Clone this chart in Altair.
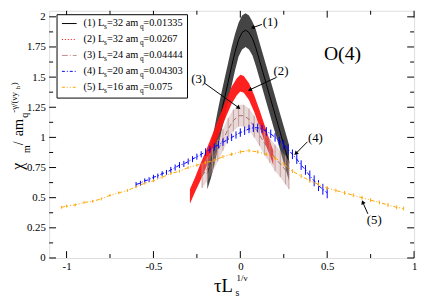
import math
import altair as alt
import numpy as np
import pandas as pd

# ---------------- data ----------------
# (1) Ls=32 amq=0.01335  (black band)
b_x = [-0.19, -0.17, -0.15, -0.13, -0.11, -0.09, -0.07, -0.05, -0.03, -0.01, 0.01, 0.03, 0.05,
       0.07, 0.09, 0.11, 0.13, 0.15, 0.17, 0.19, 0.21, 0.23, 0.25, 0.27, 0.28]
b_c = [0.70, 0.80, 0.92, 1.06, 1.20, 1.33, 1.46, 1.59, 1.71, 1.81, 1.87, 1.89, 1.87,
       1.82, 1.74, 1.64, 1.54, 1.44, 1.34, 1.24, 1.14, 1.04, 0.94, 0.84, 0.79]
b_e = [0.13, 0.14, 0.15, 0.16, 0.16, 0.16, 0.16, 0.16, 0.15, 0.14, 0.14, 0.14, 0.14,
       0.14, 0.15, 0.15, 0.15, 0.15, 0.15, 0.15, 0.15, 0.15, 0.15, 0.15, 0.15]

# (2) Ls=32 amq=0.0267  (red band)
r_x = [-0.29, -0.26, -0.23, -0.20, -0.17, -0.14, -0.11, -0.08, -0.05, -0.02, 0.00, 0.02,
       0.05, 0.08, 0.11, 0.14, 0.17, 0.19]
r_c = [0.51, 0.61, 0.71, 0.81, 0.92, 1.03, 1.14, 1.25, 1.35, 1.42, 1.45, 1.44,
       1.38, 1.28, 1.16, 1.03, 0.91, 0.83]
r_e = [0.06, 0.06, 0.07, 0.07, 0.07, 0.07, 0.07, 0.07, 0.07, 0.07, 0.07, 0.07,
       0.07, 0.07, 0.07, 0.07, 0.06, 0.06]

# (3) Ls=24 amq=0.04444  (rosy-brown band)
br_x = [-0.22, -0.19, -0.16, -0.13, -0.10, -0.07, -0.04, -0.01, 0.02, 0.05, 0.08, 0.11,
        0.14, 0.17, 0.20, 0.23, 0.26, 0.28]
br_c = [0.68, 0.74, 0.81, 0.89, 0.98, 1.07, 1.14, 1.18, 1.18, 1.15, 1.09, 1.02,
        0.95, 0.89, 0.83, 0.78, 0.73, 0.69]
br_e = [0.10, 0.10, 0.10, 0.09, 0.09, 0.09, 0.09, 0.09, 0.09, 0.09, 0.09, 0.09,
        0.10, 0.10, 0.11, 0.11, 0.12, 0.12]

# (4) Ls=20 amq=0.04303  (blue)
bl_x = [-0.600, -0.575, -0.550, -0.525, -0.500, -0.475, -0.450, -0.425, -0.400, -0.375,
        -0.350, -0.325, -0.300, -0.275, -0.250, -0.225, -0.200, -0.175, -0.150, -0.125,
        -0.100, -0.075, -0.050, -0.025, 0.000, 0.025, 0.050, 0.075, 0.100, 0.125,
        0.150, 0.175, 0.200, 0.225, 0.250, 0.275, 0.300, 0.325, 0.350, 0.375,
        0.400, 0.425, 0.450, 0.475, 0.500]
bl_c = [0.61, 0.62, 0.64, 0.65, 0.67, 0.68, 0.70, 0.71, 0.73, 0.75,
        0.77, 0.78, 0.80, 0.82, 0.84, 0.86, 0.88, 0.90, 0.92, 0.94,
        0.96, 0.98, 1.00, 1.02, 1.04, 1.055, 1.07, 1.08, 1.08, 1.07,
        1.05, 1.03, 1.00, 0.97, 0.94, 0.90, 0.86, 0.82, 0.77, 0.73,
        0.68, 0.64, 0.60, 0.57, 0.54]
bl_e = [0.020, 0.020, 0.020, 0.020, 0.020, 0.020, 0.020, 0.020, 0.025, 0.025,
        0.025, 0.025, 0.025, 0.025, 0.025, 0.025, 0.030, 0.030, 0.030, 0.030,
        0.030, 0.030, 0.030, 0.030, 0.035, 0.035, 0.035, 0.035, 0.035, 0.035,
        0.035, 0.035, 0.035, 0.035, 0.040, 0.040, 0.040, 0.040, 0.040, 0.040,
        0.045, 0.045, 0.045, 0.045, 0.045]

# (5) Ls=16 amq=0.075  (orange)
o_x = [-1.03, -1.00, -0.95, -0.90, -0.85, -0.80, -0.75, -0.70, -0.65, -0.60, -0.55,
       -0.50, -0.45, -0.40, -0.35, -0.30, -0.25, -0.20, -0.15, -0.10, -0.05, 0.00,
       0.05, 0.10, 0.15, 0.20, 0.25, 0.30, 0.35, 0.40, 0.45, 0.50, 0.55, 0.60,
       0.65, 0.70, 0.75, 0.80, 0.85, 0.90, 0.94]
o_c = [0.42, 0.43, 0.44, 0.46, 0.47, 0.49, 0.52, 0.54, 0.56, 0.59, 0.62,
       0.64, 0.67, 0.70, 0.72, 0.75, 0.77, 0.79, 0.81, 0.84, 0.86, 0.88,
       0.89, 0.88, 0.86, 0.83, 0.78, 0.72, 0.68, 0.64, 0.61, 0.58, 0.56, 0.54,
       0.52, 0.50, 0.48, 0.46, 0.44, 0.42, 0.41]
o_e = [0.012, 0.012, 0.012, 0.012, 0.012, 0.012, 0.012, 0.012, 0.012, 0.012, 0.012,
       0.012, 0.012, 0.012, 0.012, 0.012, 0.012, 0.012, 0.014, 0.014, 0.014, 0.014,
       0.014, 0.014, 0.014, 0.015, 0.015, 0.015, 0.016, 0.016, 0.016, 0.016, 0.016, 0.016,
       0.016, 0.016, 0.016, 0.016, 0.016, 0.016, 0.016]

x_major = [-1, -0.5, 0, 0.5, 1]
x_minor = [-0.75, -0.25, 0.25, 0.75]
y_major = [0, 0.25, 0.5, 0.75, 1, 1.25, 1.5, 1.75, 2]
y_minor = [0.125, 0.375, 0.625, 0.875, 1.125, 1.375, 1.625, 1.875]

leg_num = ["(1)", "(2)", "(3)", "(4)", "(5)"]
leg_L = ["32", "32", "24", "20", "16"]
leg_am = ["0.01335", "0.0267", "0.04444", "0.04303", "0.075"]

ann_text = ["(1)", "(2)", "(3)", "(4)", "(5)"]
ann_tx = [0.172, 0.234, -0.240, 0.432, 0.771]
ann_ty = [1.960, 1.554, 1.485, 0.997, 0.317]
arr_x0 = [0.124, 0.207, -0.207, 0.386, 0.734]
arr_y0 = [1.937, 1.497, 1.451, 0.963, 0.366]
arr_x1 = [0.075, 0.058, -0.012, 0.322, 0.706]
arr_y1 = [1.912, 1.397, 1.249, 0.870, 0.458]

# ---------------- layout ----------------
W, H = 372, 252
XD = [-1.1, 1.0]
YD = [0, 2.05]
SERIF = "Liberation Serif, Times New Roman, Times, serif"
xs = alt.Scale(domain=XD, nice=False, zero=False)
ys = alt.Scale(domain=YD, nice=False, zero=False)
AX = alt.Axis(values=x_major, labelExpr="'' + datum.value", title=None, ticks=False, tickSize=0,
              domain=False, grid=False, labelPadding=3, labelFont=SERIF, labelFontSize=11,
              labelColor="black", labelFlush=False, labelOverlap=False)
AY = alt.Axis(values=y_major, labelExpr="'' + datum.value", title=None, ticks=False, tickSize=0,
              domain=False, grid=False, labelPadding=4, labelFont=SERIF, labelFontSize=11,
              labelColor="black", labelFlush=False, labelOverlap=False)


def X(f):
    return alt.X(f, type="quantitative", scale=xs, axis=AX)


def Y(f):
    return alt.Y(f, type="quantitative", scale=ys, axis=AY)


def band(x, c, e):
    c = np.array(c, dtype=float)
    e = np.array(e, dtype=float)
    return pd.DataFrame({"x": x, "c": c, "lo": c - e, "hi": c + e})


ONE = pd.DataFrame({"a": [0]})


def txt(s, x, y, size, angle=0, align="left", baseline="alphabetic"):
    return alt.Chart(ONE).mark_text(text=s, font=SERIF, fontSize=size, align=align,
                                    baseline=baseline, angle=angle, color="black").encode(
        x=alt.value(x), y=alt.value(y))


layers = []

# (1) black
d1 = band(b_x, b_c, b_e)
layers.append(alt.Chart(d1).mark_area(color="#3a3a3a", opacity=0.95).encode(
    x=X("x"), y=Y("lo"), y2="hi"))
layers.append(alt.Chart(d1).mark_line(color="#000000", strokeWidth=1).encode(x=X("x"), y=Y("c")))

# (2) red
d2 = band(r_x, r_c, r_e)
layers.append(alt.Chart(d2).mark_area(color="#ff1414", opacity=0.95).encode(
    x=X("x"), y=Y("lo"), y2="hi"))

# (3) rosy brown
d3 = band(br_x, br_c, br_e)
layers.append(alt.Chart(d3).mark_area(color="#bc8f8f", opacity=0.35).encode(
    x=X("x"), y=Y("lo"), y2="hi"))
layers.append(alt.Chart(d3).mark_rule(color="#bc8f8f", strokeWidth=1, opacity=0.8).encode(
    x=X("x"), y=Y("lo"), y2="hi"))
layers.append(alt.Chart(d3).mark_line(color="#a07070", strokeWidth=1, strokeDash=[5, 3]).encode(
    x=X("x"), y=Y("c")))

# (4) blue
d4 = band(bl_x, bl_c, bl_e)
layers.append(alt.Chart(d4).mark_rule(color="#0000ff", strokeWidth=1).encode(
    x=X("x"), y=Y("lo"), y2="hi"))
layers.append(alt.Chart(d4).mark_line(color="#0000ff", strokeWidth=1, strokeDash=[4, 2, 1, 2]).encode(
    x=X("x"), y=Y("c")))

# (5) orange
d5 = band(o_x, o_c, o_e)
layers.append(alt.Chart(d5).mark_rule(color="#ffa500", strokeWidth=1).encode(
    x=X("x"), y=Y("lo"), y2="hi"))
layers.append(alt.Chart(d5).mark_line(color="#ffa500", strokeWidth=1, strokeDash=[4, 2, 1, 2, 1, 2]).encode(
    x=X("x"), y=Y("c")))

# ticks (inside, on all four sides)
dxM = pd.DataFrame({"v": x_major})
dxm = pd.DataFrame({"v": x_minor})
dyM = pd.DataFrame({"v": y_major})
dym = pd.DataFrame({"v": y_minor})
for df, ln in ((dxM, 7), (dxm, 4)):
    layers.append(alt.Chart(df).mark_rule(color="black", strokeWidth=1).encode(
        x=X("v"), y=alt.value(H), y2=alt.value(H - ln)))
    layers.append(alt.Chart(df).mark_rule(color="black", strokeWidth=1).encode(
        x=X("v"), y=alt.value(0), y2=alt.value(ln)))
for df, ln in ((dyM, 7), (dym, 4)):
    layers.append(alt.Chart(df).mark_rule(color="black", strokeWidth=1).encode(
        y=Y("v"), x=alt.value(0), x2=alt.value(ln)))
    layers.append(alt.Chart(df).mark_rule(color="black", strokeWidth=1).encode(
        y=Y("v"), x=alt.value(W), x2=alt.value(W - ln)))

# annotations
dann = pd.DataFrame({"t": ann_text, "x": ann_tx, "y": ann_ty})
layers.append(alt.Chart(dann).mark_text(font=SERIF, fontSize=13, color="black",
                                        align="center", baseline="middle").encode(
    x=X("x"), y=Y("y"), text="t"))
kx = W / (XD[1] - XD[0])
ky = H / (YD[1] - YD[0])
angles = []
for x0, y0, x1, y1 in zip(arr_x0, arr_y0, arr_x1, arr_y1):
    ddx = (x1 - x0) * kx
    ddy = -(y1 - y0) * ky
    angles.append(math.degrees(math.atan2(ddx, -ddy)) % 360)
darr = pd.DataFrame({"x0": arr_x0, "y0": arr_y0, "x1": arr_x1, "y1": arr_y1, "ang": angles})
layers.append(alt.Chart(darr).mark_rule(color="black", strokeWidth=1).encode(
    x=X("x0"), y=Y("y0"), x2="x1", y2="y1"))
layers.append(alt.Chart(darr).mark_point(shape="triangle", filled=True, color="black",
                                         size=22, opacity=1).encode(
    x=X("x1"), y=Y("y1"), angle=alt.Angle("ang:Q", scale=None)))

layers.append(txt("O(4)", 299, 50, 20, align="center"))

# legend
layers.append(alt.Chart(ONE).mark_rect(fill="white", stroke="black", strokeWidth=1).encode(
    x=alt.value(8), x2=alt.value(141), y=alt.value(4), y2=alt.value(89)))
leg_styles = [("#000000", []), ("#ff0000", [1, 2]), ("#bc8f8f", [6, 2, 1, 2]),
              ("#0000ff", [3, 2, 1, 2]), ("#ffa500", [3, 2, 1, 2, 1, 2])]
base_y = [16, 32.25, 48.5, 64.75, 81]
for i in range(5):
    col, dash = leg_styles[i]
    by = base_y[i]
    mk = dict(color=col, strokeWidth=1)
    if dash:
        mk["strokeDash"] = dash
    layers.append(alt.Chart(ONE).mark_rule(**mk).encode(
        x=alt.value(13), x2=alt.value(28), y=alt.value(by - 3)))
    layers.append(txt(leg_num[i] + " L", 35, by, 10.5))
    layers.append(txt("s", 56, by + 3, 7.5))
    layers.append(txt("=" + leg_L[i] + "  am", 59, by, 10.5))
    layers.append(txt("q", 92.5, by + 3, 7.5))
    layers.append(txt("=" + leg_am[i], 96, by, 10.5))

# axis titles
layers.append(txt("τL", 168, 287, 19))
layers.append(txt("s", 190, 291, 10))
layers.append(txt("1/ν", 191, 275, 9))

layers.append(txt("χ", -27, 162, 16, angle=270))
layers.append(txt("m", -20, 145, 10, angle=270))
layers.append(txt("/", -27, 137, 14, angle=270))
layers.append(txt("am", -27, 128, 14.5, angle=270))
layers.append(txt("q", -22, 109, 10, angle=270))
layers.append(txt("-γ/(νy", -33, 104, 9, angle=270))
layers.append(txt("h", -30, 80, 6.5, angle=270))
layers.append(txt(")", -33, 76, 9, angle=270))

chart = alt.layer(*layers).properties(
    width=W, height=H,
    autosize=alt.AutoSizeParams(type="none"),
    padding={"left": 42, "top": 0, "right": 4, "bottom": 40},
).configure_view(stroke="black", strokeWidth=1).configure(background="white")

chart.save("out.html", embed_options={"renderer": "svg", "actions": False})
